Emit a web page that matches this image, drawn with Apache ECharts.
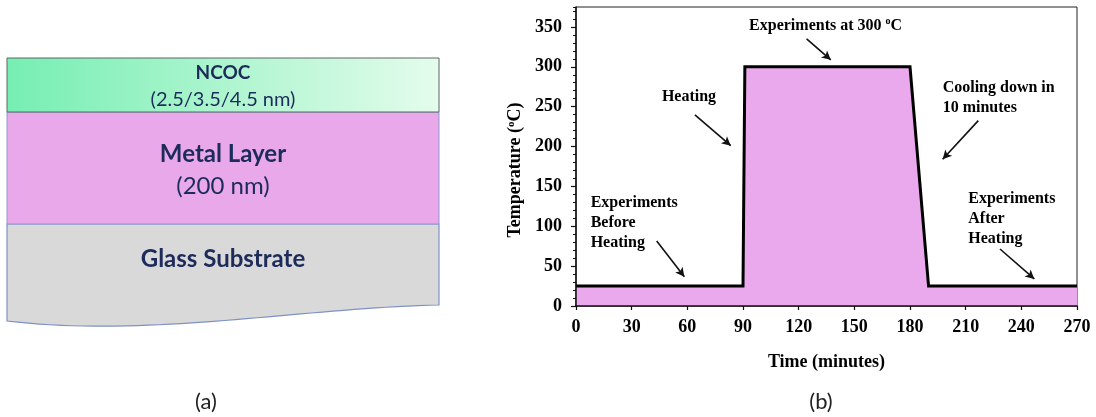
<!DOCTYPE html>
<html>
<head>
<meta charset="utf-8">
<script src="https://cdn.jsdelivr.net/npm/echarts@6/dist/echarts.min.js"></script>
<style>
  html, body { margin: 0; padding: 0; background: #ffffff; }
  #chart { width: 1096px; height: 417px; }
</style>
</head>
<body>
<div id="chart"></div>
<script>
// Temperature profile of the heating experiment
const timeMin = [0, 90, 91, 180, 190, 270];
const tempC = [25, 25, 300, 300, 25, 25];

// Axis ticks
const xTicks = [0, 30, 60, 90, 120, 150, 180, 210, 240, 270];
const yMajorStep = 50;
const yMinorStep = 10;
const yMax = 375;

// Annotation texts, their anchor (minutes, °C) and how they are aligned
const noteTexts = [
  '{b|Experiments at 300 }{sup|o}{b|C}',
  '{b|Heating}',
  '{b|Cooling down in}\n{b|10 minutes}',
  '{b|Experiments}\n{b|Before}\n{b|Heating}',
  '{b|Experiments}\n{b|After}\n{b|Heating}'
];
const noteAnchors = [[134.5, 351], [60.9, 262], [197.6, 261.3], [7.9, 103.7], [211.4, 109.2]];
const noteAlign = ['center', 'center', 'left', 'left', 'left'];

// Arrows: tail -> head (minutes, °C)
const arrows = [
  [[124.3, 335], [137.3, 308.7]],
  [[64.1, 239.6], [83.4, 201.1]],
  [[216.8, 232.5], [197.6, 184]],
  [[43.5, 81.6], [58.4, 36.8]],
  [[228.5, 71.5], [247, 33.9]]
];

// Layer stack labels
const layerTitles = ['NCOC', 'Metal Layer', 'Glass Substrate'];
const layerNotes = ['(2.5/3.5/4.5 nm)', '(200 nm)'];
const panelLabels = ['(a)', '(b)'];

const serif = '"Liberation Serif", "Times New Roman", serif';
const sans = 'Lato, "Open Sans", sans-serif';
const navy = '#1d2b5a';
const ink = '#000000';

// Outline of the glass block: straight top and sides, a wavy broken edge at the bottom
function glassOutline() {
  const pts = [[7, 224], [439, 224], [439, 305]];
  const p0 = [439, 305], c1 = [300, 308], c2 = [150, 338], p3 = [7, 321];
  for (let i = 1; i <= 40; i++) {
    const t = i / 40, u = 1 - t;
    pts.push([
      u * u * u * p0[0] + 3 * u * u * t * c1[0] + 3 * u * t * t * c2[0] + t * t * t * p3[0],
      u * u * u * p0[1] + 3 * u * u * t * c1[1] + 3 * u * t * t * c2[1] + t * t * t * p3[1]
    ]);
  }
  return pts;
}

const chart = echarts.init(document.getElementById('chart'), null, { renderer: 'canvas' });

const profile = timeMin.map((t, i) => [t, tempC[i]]);

const richText = {
  b: { fontFamily: serif, fontWeight: 'bold', fontSize: 16, color: ink, lineHeight: 20, textBorderWidth: 0 },
  sup: { fontFamily: serif, fontWeight: 'bold', fontSize: 10, color: ink, verticalAlign: 'top', lineHeight: 20, padding: [0, 0, 6, 0], textBorderWidth: 0 }
};

const noteData = noteTexts.map((txt, i) => ({
  value: noteAnchors[i],
  label: {
    show: true,
    formatter: txt,
    position: noteAlign[i] === 'center' ? 'inside' : 'right',
    distance: 0,
    align: noteAlign[i],
    verticalAlign: 'middle',
    color: ink,
    textBorderWidth: 0,
    opacity: 1,
    rich: richText
  }
}));

const option = {
  backgroundColor: '#ffffff',
  animation: false,
  grid: {
    left: 576, right: 19, top: 7, bottom: 111,
    show: true, borderColor: '#222', borderWidth: 1, backgroundColor: 'transparent'
  },
  xAxis: {
    type: 'value', min: xTicks[0], max: xTicks[xTicks.length - 1],
    interval: xTicks[1] - xTicks[0], z: 5,
    name: 'Time (minutes)', nameLocation: 'middle', nameGap: 47,
    nameTextStyle: { fontFamily: serif, fontWeight: 'bold', fontSize: 18, color: ink },
    axisLine: { lineStyle: { color: '#111', width: 1.5 } },
    axisTick: { show: true, inside: false, length: 4, lineStyle: { color: '#111', width: 1.2 } },
    axisLabel: { margin: 12, fontFamily: serif, fontWeight: 'bold', fontSize: 18, color: ink },
    splitLine: { show: false }
  },
  yAxis: [
    {
      type: 'value', min: 0, max: yMax, interval: yMajorStep, z: 5,
      name: 'Temperature ({sup|o}C)', nameLocation: 'middle', nameGap: 52, nameRotate: 90,
      nameTextStyle: {
        fontFamily: serif, fontWeight: 'bold', fontSize: 18, color: ink, padding: [0, 27, 0, 0],
        rich: { sup: { fontFamily: serif, fontWeight: 'bold', fontSize: 11, color: ink, verticalAlign: 'top', padding: [0, 0, 7, 0] } }
      },
      axisLine: { lineStyle: { color: '#111', width: 1.5 } },
      axisTick: { show: true, inside: false, length: 5, lineStyle: { color: '#111', width: 1.2 } },
      axisLabel: { margin: 14, showMaxLabel: false, fontFamily: serif, fontWeight: 'bold', fontSize: 18, color: ink },
      splitLine: { show: false }
    },
    {
      type: 'value', min: 0, max: yMax, interval: yMinorStep, position: 'left', z: 5,
      axisLine: { show: false },
      axisTick: { show: true, inside: false, length: 3, lineStyle: { color: '#111', width: 1 } },
      axisLabel: { show: false },
      splitLine: { show: false }
    }
  ],
  series: [
    {
      type: 'line', data: profile, showSymbol: false, symbol: 'none',
      lineStyle: { color: '#000', width: 3, join: 'miter' },
      areaStyle: { color: '#e9a9ec', opacity: 1 },
      z: 2,
      markLine: {
        silent: true, symbol: ['none', 'arrow'], symbolSize: [7, 9], precision: 3,
        label: { show: false },
        lineStyle: { color: '#111', width: 1.6, type: 'solid' },
        data: arrows.map(a => [{ coord: a[0] }, { coord: a[1] }])
      }
    },
    {
      type: 'scatter', data: noteData, symbolSize: 0, silent: true, z: 6,
      itemStyle: { color: ink, opacity: 1 }
    }
  ],
  graphic: [
    {
      type: 'polygon',
      shape: { points: glassOutline() },
      style: { fill: '#d9d9d9', stroke: '#7f92c6', lineWidth: 1.2 }
    },
    {
      type: 'rect', shape: { x: 7, y: 112, width: 432, height: 112 },
      style: { fill: '#e8a8ea', stroke: '#8d9bcc', lineWidth: 1 }
    },
    {
      type: 'rect', shape: { x: 7, y: 58, width: 432, height: 54 },
      style: {
        fill: {
          type: 'linear', x: 0, y: 0, x2: 1, y2: 0,
          colorStops: [
            { offset: 0, color: '#76eeb2' },
            { offset: 1, color: '#e4fcec' }
          ]
        },
        stroke: '#5f6464', lineWidth: 1
      }
    },
    { type: 'text', style: { text: layerTitles[0], x: 223, y: 73, align: 'center', verticalAlign: 'middle', fontFamily: sans, fontWeight: 'bold', fontSize: 19, fill: navy } },
    { type: 'text', style: { text: layerNotes[0], x: 223, y: 100, align: 'center', verticalAlign: 'middle', fontFamily: sans, fontSize: 20, fill: navy } },
    { type: 'text', style: { text: layerTitles[1], x: 223, y: 154, align: 'center', verticalAlign: 'middle', fontFamily: sans, fontWeight: 'bold', fontSize: 24, fill: navy } },
    { type: 'text', style: { text: layerNotes[1], x: 223, y: 186, align: 'center', verticalAlign: 'middle', fontFamily: sans, fontSize: 24, fill: navy } },
    { type: 'text', style: { text: layerTitles[2], x: 223, y: 259, align: 'center', verticalAlign: 'middle', fontFamily: sans, fontWeight: 'bold', fontSize: 24, fill: navy } },
    { type: 'text', style: { text: panelLabels[0], x: 206, y: 402, align: 'center', verticalAlign: 'middle', fontFamily: sans, fontSize: 22, fill: '#222' } },
    { type: 'text', style: { text: panelLabels[1], x: 821, y: 402, align: 'center', verticalAlign: 'middle', fontFamily: sans, fontSize: 22, fill: '#222' } }
  ]
};

chart.setOption(option);
</script>
</body>
</html>
